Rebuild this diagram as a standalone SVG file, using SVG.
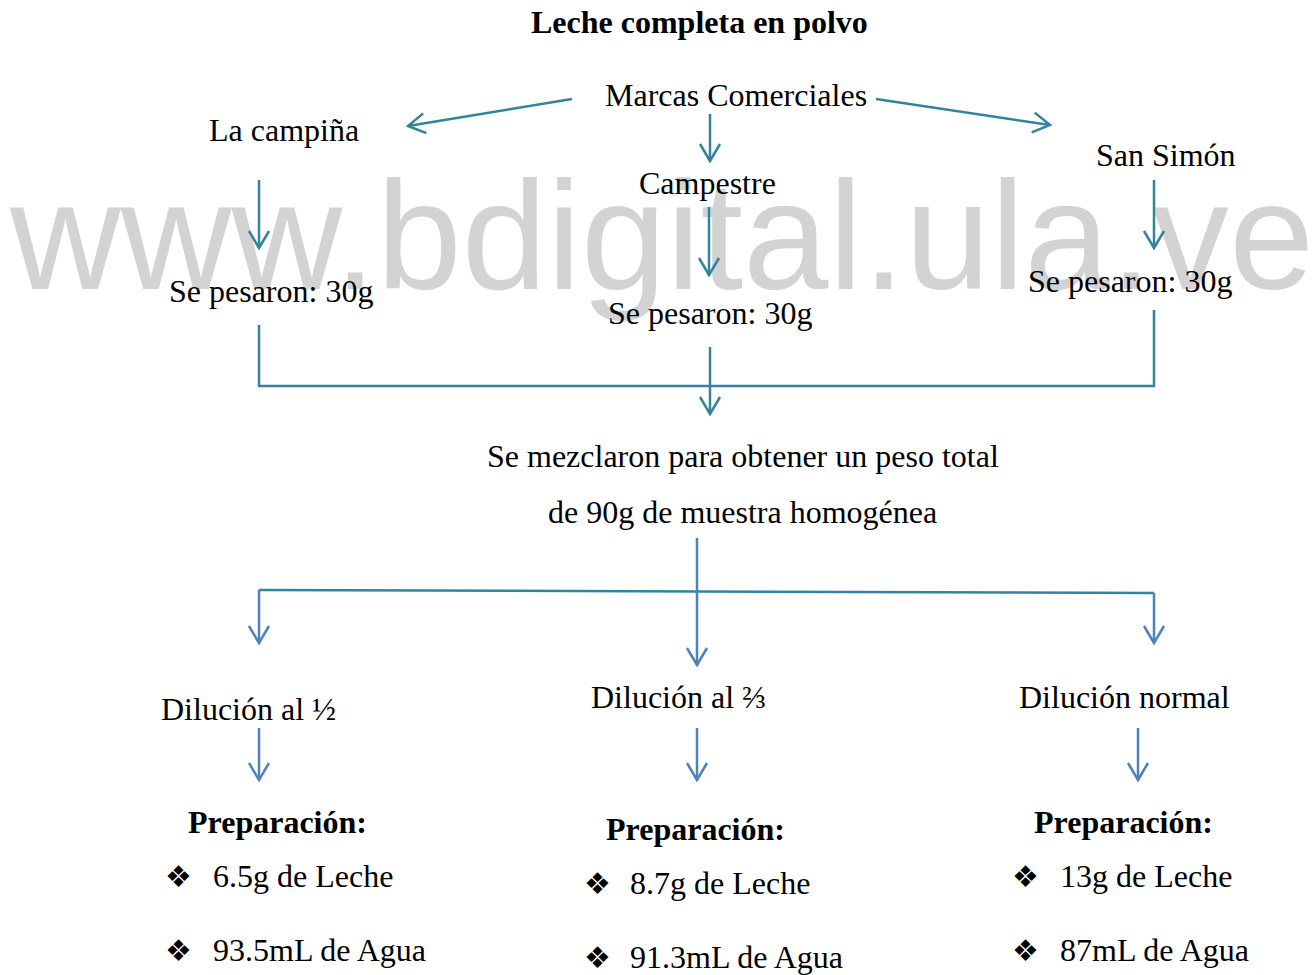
<svg xmlns="http://www.w3.org/2000/svg" width="1315" height="975" viewBox="0 0 1315 975">
<style>
.t{font-family:"Liberation Serif","Times New Roman",serif;font-size:32px;fill:#000}
.b{font-weight:bold}
.bul{font-family:"DejaVu Sans",sans-serif;font-size:30px;fill:#000}
.wm{font-family:"Liberation Sans",Arial,sans-serif;font-size:153.4px;fill:#d3d3d3}
.ct{stroke:#31849B;stroke-width:2.5;fill:none}
.cb{stroke:#4F81BD;stroke-width:2.5;fill:none}
</style>
<defs>
<marker id="ha" viewBox="-20 -12 24 24" refX="0" refY="0" markerWidth="24" markerHeight="24" markerUnits="userSpaceOnUse" orient="auto">
<path d="M-17,-10 L0,0 L-17,10" fill="none" stroke="#31849B" stroke-width="2.5"/>
</marker>
<marker id="hb" viewBox="-20 -12 24 24" refX="0" refY="0" markerWidth="24" markerHeight="24" markerUnits="userSpaceOnUse" orient="auto">
<path d="M-17,-10 L0,0 L-17,10" fill="none" stroke="#4F81BD" stroke-width="2.5"/>
</marker>
</defs>
<rect width="1315" height="975" fill="#fff"/>
<text class="wm" x="10" y="289">www.bdigital.ula.ve</text>
<g id="connectors">
<line class="ct" x1="572" y1="99" x2="408" y2="126" marker-end="url(#ha)"/>
<line class="ct" x1="876" y1="99" x2="1050" y2="125" marker-end="url(#ha)"/>
<line class="ct" x1="710" y1="114" x2="710" y2="161" marker-end="url(#ha)"/>
<line class="ct" x1="259" y1="180" x2="259" y2="248" marker-end="url(#ha)"/>
<line class="ct" x1="709" y1="207" x2="709" y2="275" marker-end="url(#ha)"/>
<line class="ct" x1="1154" y1="180" x2="1154" y2="248" marker-end="url(#ha)"/>
<polyline class="ct" points="259,325 259,386 1154,386 1154,310"/>
<line class="ct" x1="710" y1="347" x2="710" y2="414" marker-end="url(#ha)"/>
<line class="ct" x1="259" y1="590" x2="1154" y2="593"/>
<line class="cb" x1="697" y1="538" x2="697" y2="665" marker-end="url(#hb)"/>
<line class="cb" x1="259" y1="590" x2="259" y2="643" marker-end="url(#hb)"/>
<line class="cb" x1="1154" y1="593" x2="1154" y2="643" marker-end="url(#hb)"/>
<line class="cb" x1="259" y1="728" x2="259" y2="780" marker-end="url(#hb)"/>
<line class="cb" x1="697" y1="728" x2="697" y2="780" marker-end="url(#hb)"/>
<line class="cb" x1="1138" y1="728" x2="1138" y2="780" marker-end="url(#hb)"/>
</g>
<g id="title"><text class="t b" x="531" y="33">Leche completa en polvo</text></g>
<g id="marcas"><text class="t" x="605" y="106">Marcas Comerciales</text></g>
<g id="campina"><text class="t" x="209" y="141">La campiña</text></g>
<g id="campestre"><text class="t" x="639" y="194">Campestre</text></g>
<g id="sansimon"><text class="t" x="1096" y="166">San Simón</text></g>
<g id="pesaron1"><text class="t" x="169" y="302">Se pesaron: 30g</text></g>
<g id="pesaron2"><text class="t" x="608" y="324">Se pesaron: 30g</text></g>
<g id="pesaron3"><text class="t" x="1028" y="292">Se pesaron: 30g</text></g>
<g id="mezcla">
<text class="t" x="487" y="467">Se mezclaron para obtener un peso total</text>
<text class="t" x="548" y="523">de 90g de muestra homogénea</text>
</g>
<g id="dil1"><text class="t" x="161" y="720">Dilución al ½</text></g>
<g id="dil2"><text class="t" x="591" y="708">Dilución al ⅔</text></g>
<g id="dil3"><text class="t" x="1019" y="708">Dilución normal</text></g>
<g id="prep1">
<text class="t b" x="188" y="833">Preparación:</text>
<text class="bul" x="165" y="887">❖</text><text class="t" x="213" y="887">6.5g de Leche</text>
<text class="bul" x="165" y="961">❖</text><text class="t" x="213" y="961">93.5mL de Agua</text>
</g>
<g id="prep2">
<text class="t b" x="606" y="840">Preparación:</text>
<text class="bul" x="584" y="894">❖</text><text class="t" x="630" y="894">8.7g de Leche</text>
<text class="bul" x="584" y="968">❖</text><text class="t" x="630" y="968">91.3mL de Agua</text>
</g>
<g id="prep3">
<text class="t b" x="1034" y="833">Preparación:</text>
<text class="bul" x="1012" y="887">❖</text><text class="t" x="1060" y="887">13g de Leche</text>
<text class="bul" x="1012" y="961">❖</text><text class="t" x="1060" y="961">87mL de Agua</text>
</g>
</svg>
